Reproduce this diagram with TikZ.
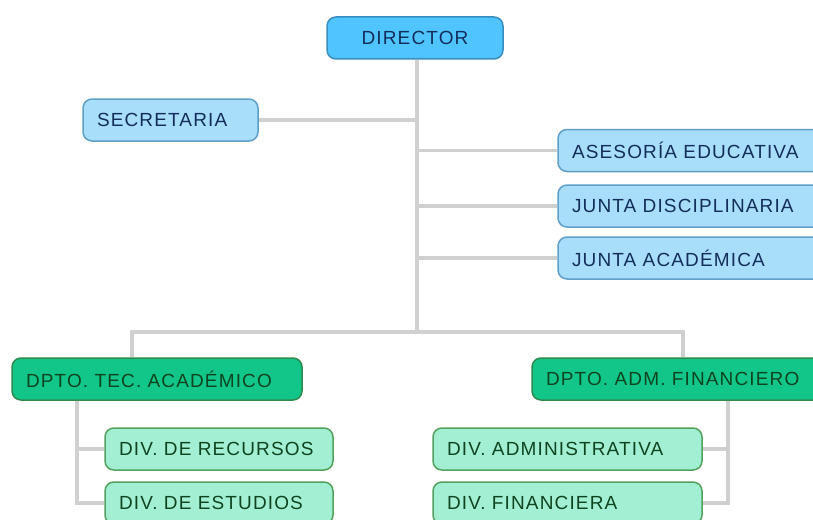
\documentclass[tikz,border=0pt]{standalone}
\usepackage{fontspec}
\setmainfont[LetterSpace=6]{Liberation Sans}
\usetikzlibrary{backgrounds}
\definecolor{dirfill}{HTML}{4FC4FF}
\definecolor{dirdraw}{HTML}{3B8DBF}
\definecolor{lbfill}{HTML}{A9DEFB}
\definecolor{lbdraw}{HTML}{5F9FC8}
\definecolor{btext}{HTML}{132E5A}
\definecolor{dpfill}{HTML}{12C68A}
\definecolor{dpdraw}{HTML}{2F8A50}
\definecolor{gtext}{HTML}{0E4520}
\definecolor{dvfill}{HTML}{A3EFD3}
\definecolor{dvdraw}{HTML}{52A25E}
\definecolor{linegray}{HTML}{D0D0D0}
\begin{document}
\begin{tikzpicture}[x=1pt,y=-1pt,
  box/.style={draw, rounded corners=9pt, line width=1.5pt, minimum height=42pt,
    inner xsep=14pt, inner ysep=0pt, font=\fontsize{19}{22}\selectfont},
  dirbox/.style={box, fill=dirfill, draw=dirdraw, text=btext, align=center},
  bluebox/.style={box, fill=lbfill, draw=lbdraw, text=btext, align=left},
  deptbox/.style={box, fill=dpfill, draw=dpdraw, text=gtext, align=left},
  divbox/.style={box, fill=dvfill, draw=dvdraw, text=gtext, align=left},
  conn/.style={draw=linegray, line width=3.5pt}]
\useasboundingbox (0,0) rectangle (813,519);

\node[dirbox, text width=148pt] (director) at (415,38) {\mbox{DIRECTOR}};
\node[bluebox, text width=147pt] (secretaria) at (170.5,120) {\mbox{SECRETARIA}};
\node[bluebox, text width=244pt] (asesoria) at (694,150.5) {\mbox{ASESORÍA EDUCATIVA}};
\node[bluebox, text width=244pt] (jdisc) at (694,206) {\mbox{JUNTA DISCIPLINARIA}};
\node[bluebox, text width=244pt] (jacad) at (694,258) {\mbox{JUNTA ACADÉMICA}};
\node[deptbox, text width=262pt] (dtec) at (157,379) {\mbox{DPTO. TEC. ACADÉMICO}};
\node[deptbox, text width=270pt] (dadm) at (681,379) {\mbox{DPTO. ADM. FINANCIERO}};
\node[divbox, text width=200pt] (drec) at (219,449) {\mbox{DIV. DE RECURSOS}};
\node[divbox, text width=200pt] (dest) at (219,503) {\mbox{DIV. DE ESTUDIOS}};
\node[divbox, text width=241pt] (dadmin) at (567.5,449) {\mbox{DIV. ADMINISTRATIVA}};
\node[divbox, text width=241pt] (dfin) at (567.5,503) {\mbox{DIV. FINANCIERA}};

\coordinate (hub) at (417,332);
\coordinate (hl) at (132,332);
\coordinate (hr) at (683,332);
\coordinate (sl) at (77,0);
\coordinate (sr) at (728,0);

\begin{scope}[on background layer]
\draw[conn] (director.south -| hub) -- (hub);
\draw[conn] (secretaria.east) -- (secretaria.east -| hub);
\draw[conn] (asesoria.west) -- (asesoria.west -| hub);
\draw[conn] (jdisc.west) -- (jdisc.west -| hub);
\draw[conn] (jacad.west) -- (jacad.west -| hub);
\draw[conn] (hl |- dtec.north) -- (hl) -- (hr) -- (hr |- dadm.north);
\draw[conn] (dtec.south -| sl) |- (dest.west);
\draw[conn] (drec.west) -- (drec.west -| sl);
\draw[conn] (dadm.south -| sr) |- (dfin.east);
\draw[conn] (dadmin.east) -- (dadmin.east -| sr);
\end{scope}
\end{tikzpicture}
\end{document}
